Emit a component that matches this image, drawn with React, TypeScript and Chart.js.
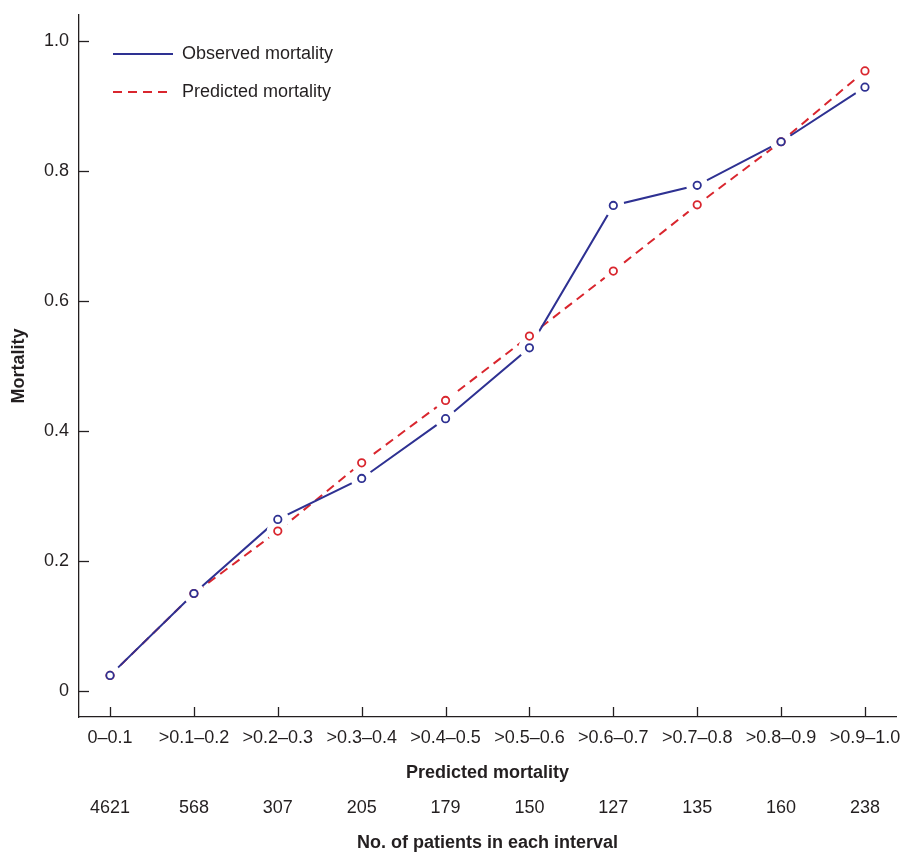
import React, { useEffect, useRef } from "react";
import { Chart, registerables } from "chart.js";

Chart.register(...registerables);

const categories = [
  "0–0.1", ">0.1–0.2", ">0.2–0.3", ">0.3–0.4", ">0.4–0.5",
  ">0.5–0.6", ">0.6–0.7", ">0.7–0.8", ">0.8–0.9", ">0.9–1.0",
];
const patients = [4621, 568, 307, 205, 179, 150, 127, 135, 160, 238];
const observed = [0.024, 0.15, 0.264, 0.327, 0.419, 0.528, 0.747, 0.778, 0.845, 0.929];
const predicted = [0.024, 0.15, 0.246, 0.351, 0.447, 0.546, 0.646, 0.748, 0.845, 0.954];
const yTicks = [0, 0.2, 0.4, 0.6, 0.8, 1.0];

const BLUE = "#2E3192";
const RED = "#D9262E";
const INK = "#231F20";
const FONT = "'Liberation Sans', Arial, Helvetica, sans-serif";

export default function App() {
  const ref = useRef<HTMLCanvasElement | null>(null);

  useEffect(() => {
    document.body.style.margin = "0";
    const canvas = ref.current!;
    const obsPts = observed.map((v, i) => ({ x: i, y: v }));
    const prePts = predicted.map((v, i) => ({ x: i, y: v }));

    const decor = {
      id: "decor",
      afterDraw(chart: any) {
        const { ctx, chartArea, scales } = chart;
        const xs = scales.x;
        const ys = scales.y;
        ctx.save();
        ctx.strokeStyle = INK;
        ctx.lineWidth = 1.3;
        // inward tick marks
        yTicks.forEach((v) => {
          const py = Math.round(ys.getPixelForValue(v)) + 0.5;
          ctx.beginPath();
          ctx.moveTo(chartArea.left, py);
          ctx.lineTo(chartArea.left + 10, py);
          ctx.stroke();
        });
        categories.forEach((_, i) => {
          const px = Math.round(xs.getPixelForValue(i)) + 0.5;
          ctx.beginPath();
          ctx.moveTo(px, chartArea.bottom);
          ctx.lineTo(px, chartArea.bottom - 10);
          ctx.stroke();
        });
        // legend
        const lx = chartArea.left + 34;
        const ly1 = chartArea.top + 39;
        const ly2 = chartArea.top + 77;
        ctx.lineWidth = 2;
        ctx.strokeStyle = BLUE;
        ctx.beginPath();
        ctx.moveTo(lx, ly1);
        ctx.lineTo(lx + 60, ly1);
        ctx.stroke();
        ctx.strokeStyle = RED;
        ctx.setLineDash([9, 6]);
        ctx.beginPath();
        ctx.moveTo(lx, ly2);
        ctx.lineTo(lx + 60, ly2);
        ctx.stroke();
        ctx.setLineDash([]);
        ctx.fillStyle = INK;
        ctx.font = `18px ${FONT}`;
        ctx.textBaseline = "middle";
        ctx.textAlign = "left";
        ctx.fillText("Observed mortality", lx + 69, ly1);
        ctx.fillText("Predicted mortality", lx + 69, ly2);
        ctx.restore();
      },
    };

    const noPad = (s: any) => {
      s.paddingTop = 0;
      s.paddingBottom = 0;
      s.paddingLeft = 0;
      s.paddingRight = 0;
    };

    const chart = new Chart(canvas, {
      type: "scatter",
      data: {
        datasets: [
          {
            label: "obs-markers",
            data: obsPts,
            showLine: false,
            pointRadius: 3.7,
            pointBorderWidth: 1.8,
            pointBorderColor: BLUE,
            pointBackgroundColor: "#ffffff",
            order: 0,
          },
          {
            label: "pre-markers",
            data: prePts,
            showLine: false,
            pointRadius: 3.7,
            pointBorderWidth: 1.8,
            pointBorderColor: RED,
            pointBackgroundColor: "#ffffff",
            order: 1,
          },
          {
            label: "obs-mask",
            data: obsPts,
            showLine: false,
            pointRadius: 11,
            pointBorderWidth: 0,
            pointBackgroundColor: "#ffffff",
            pointBorderColor: "#ffffff",
            order: 2,
          },
          {
            label: "pre-mask",
            data: prePts,
            showLine: false,
            pointRadius: 11,
            pointBorderWidth: 0,
            pointBackgroundColor: "#ffffff",
            pointBorderColor: "#ffffff",
            order: 2,
          },
          {
            label: "Observed mortality",
            data: obsPts,
            showLine: true,
            borderColor: BLUE,
            borderWidth: 2,
            pointRadius: 0,
            order: 3,
          },
          {
            label: "Predicted mortality",
            data: prePts,
            showLine: true,
            borderColor: RED,
            borderWidth: 2,
            borderDash: [9, 6],
            pointRadius: 0,
            order: 4,
          },
        ],
      },
      options: {
        responsive: false,
        animation: false,
        events: [],
        layout: { autoPadding: false, padding: { top: 15, right: 7, left: 0, bottom: 0 } },
        plugins: { legend: { display: false }, tooltip: { enabled: false } },
        scales: {
          x: {
            type: "linear",
            position: "bottom",
            min: -0.37,
            max: 9.37,
            weight: 0,
            grid: { display: false, drawTicks: false },
            border: { display: true, color: INK, width: 1.3 },
            afterBuildTicks: (s: any) => {
              s.ticks = categories.map((_, i) => ({ value: i }));
            },
            ticks: {
              autoSkip: false,
              maxRotation: 0,
              padding: 10,
              color: INK,
              font: { family: FONT, size: 18 },
              callback: (v: any) => categories[v] ?? "",
            },
            title: {
              display: true,
              text: "Predicted mortality",
              color: INK,
              font: { family: FONT, size: 18, weight: "bold" },
              padding: { top: 8, bottom: 6 },
            },
            afterFit: (s: any) => {
              s.height = 73;
              noPad(s);
            },
          },
          x2: {
            type: "linear",
            position: "bottom",
            min: -0.37,
            max: 9.37,
            weight: 1,
            grid: { display: false, drawTicks: false },
            border: { display: false },
            afterBuildTicks: (s: any) => {
              s.ticks = patients.map((_, i) => ({ value: i }));
            },
            ticks: {
              autoSkip: false,
              maxRotation: 0,
              padding: 7,
              color: INK,
              font: { family: FONT, size: 18 },
              callback: (v: any) => (patients[v] !== undefined ? String(patients[v]) : ""),
            },
            title: {
              display: true,
              text: "No. of patients in each interval",
              color: INK,
              font: { family: FONT, size: 18, weight: "bold", lineHeight: 1.0 },
              padding: { top: 8, bottom: 0 },
            },
            afterFit: (s: any) => {
              s.height = 62;
              noPad(s);
            },
          },
          y: {
            type: "linear",
            min: -0.04,
            max: 1.04,
            grid: { display: false, drawTicks: false },
            border: { display: true, color: INK, width: 1.3 },
            afterBuildTicks: (s: any) => {
              s.ticks = yTicks.map((v) => ({ value: v }));
            },
            ticks: {
              padding: 10,
              color: INK,
              font: { family: FONT, size: 18 },
              callback: (v: any) => (v === 0 ? "0" : Number(v).toFixed(1)),
            },
            title: {
              display: true,
              text: "Mortality",
              color: INK,
              font: { family: FONT, size: 18, weight: "bold" },
              padding: { top: 8, bottom: 0 },
            },
            afterFit: (s: any) => {
              s.width = 79;
              noPad(s);
            },
          },
        },
      },
      plugins: [decor],
    } as any);

    return () => chart.destroy();
  }, []);

  return <canvas ref={ref} width={903} height={852} style={{ display: "block" }} />;
}
